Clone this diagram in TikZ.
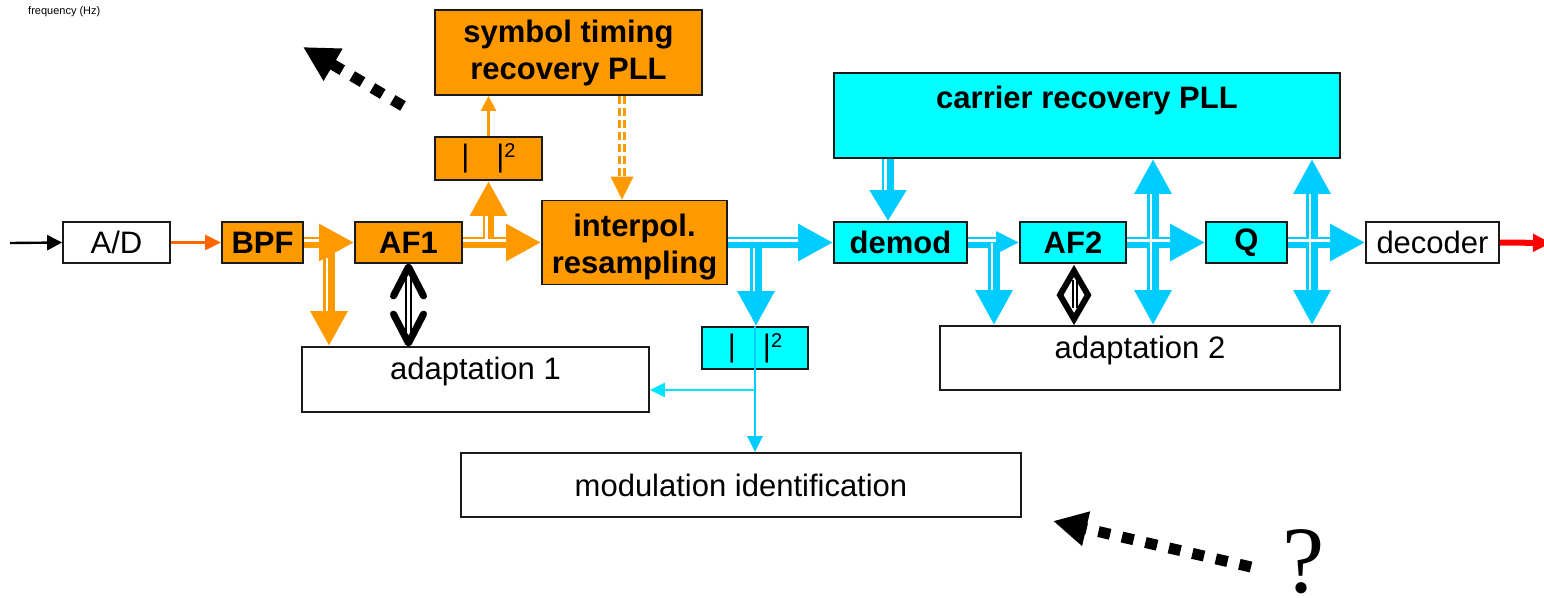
\documentclass[tikz,border=0pt]{standalone}
\usepackage{fontspec}
\setmainfont{Liberation Sans}
\newfontfamily\serifq{Liberation Serif}
\usetikzlibrary{arrows.meta,calc}
\definecolor{org}{HTML}{FF9900}
\definecolor{orgdark}{HTML}{FF6600}
\definecolor{cyfill}{HTML}{00FFFF}
\definecolor{cyarr}{HTML}{00CCFF}
\definecolor{cythin}{HTML}{00E5FF}
\definecolor{edge}{HTML}{1A1A1A}
\newcommand\txt{\fontsize{31pt}{37pt}\selectfont}
\newcommand\absq{{|}\hspace{27pt}{|}\raisebox{9pt}{\fontsize{20pt}{20pt}\selectfont 2}}

\begin{document}
\begin{tikzpicture}[x=1pt,y=-1pt,
  blk/.style={draw=edge, line width=1.8pt, inner sep=0pt, font=\txt, align=center},
  obox/.style={blk, fill=org, font=\txt\bfseries},
  cbox/.style={blk, fill=cyfill, font=\txt\bfseries},
  wbox/.style={blk, fill=white},
  sz/.style 2 args={minimum width=#1pt, minimum height=#2pt},
  big/.style={-{Triangle[length=35pt,width=35pt]}},
  bigboth/.style={{Triangle[length=35pt,width=35pt]}-{Triangle[length=35pt,width=35pt]}},
  oline/.style={draw=org, line width=11.5pt},
  cline/.style={draw=cyarr, line width=11.5pt},
  stripe/.style={draw=white, line width=2.4pt},
  thinhead/.style={-{Triangle[length=15pt,width=15pt]}},
  vhead/.style={draw=black, line width=7pt, line cap=round, line join=round},
  dotline/.style={draw=black, line width=11pt},
]
\useasboundingbox (0,0) rectangle (1544,597);
\clip (0,0) rectangle (1544,597);

% ---------- blocks ----------
\node[font=\fontsize{11pt}{13pt}\selectfont, anchor=base west, inner sep=0pt] (freq) at (28,14) {frequency (Hz)};

\node[wbox, sz={107}{41}] (ad) at (116.5,242.5) {A/D};
\node[obox, sz={81}{41}] (bpf) at (262.5,242.5) {BPF};
\node[obox, sz={107}{41}] (af1) at (408.5,242.5) {AF1};
\node[obox, sz={185}{84}] (interp) at (634.5,242.5) {\rule{0pt}{32pt}interpol.\\resampling};
\node[obox, sz={267}{85}] (sym) at (568.5,52.5) {symbol timing\\recovery PLL};
\node[blk, fill=org, sz={107}{43}] (sq1) at (488.5,158.5) {\absq};
\node[blk, fill=cyfill, sz={106}{42}] (sq2) at (755,348) {\absq};
\node[wbox, sz={347}{65}, text depth=22pt] (ad1) at (475.5,379.5) {adaptation 1};
\node[wbox, sz={560}{64}] (modid) at (741,485) {modulation identification};
\node[cbox, sz={506}{85}, text depth=37pt] (carrier) at (1087,115.5) {carrier recovery PLL};
\node[cbox, sz={133}{41}] (demod) at (900.5,242.5) {demod};
\node[cbox, sz={106}{41}] (af2) at (1073,242.5) {AF2};
\node[cbox, sz={81}{41}] (q) at (1246.5,242.5) {Q};
\node[wbox, sz={133}{41}] (dec) at (1432.5,242.5) {decoder};
\node[wbox, sz={400}{64}, text depth=22pt] (ad2) at (1140,358) {adaptation 2};

% ---------- branch points ----------
\coordinate (in) at (10,243);
\coordinate (out) at (1551,243);
\coordinate (b1) at (329,242.5);
\coordinate (b2) at (488.5,242.5);
\coordinate (b3) at (756,242.5);
\coordinate (b4) at (994,242.5);
\coordinate (tx) at (622,0);
\coordinate (cx) at (888,0);
\coordinate (v1) at (1153,0);
\coordinate (v2) at (1312,0);
\coordinate (j) at (755,390);

% ---------- thin signal lines ----------
\draw[draw=black, line width=2.4pt, thinhead] (in) -- (ad.west);
\draw[draw=orgdark, line width=2.4pt, -{Triangle[length=16pt,width=15pt]}] (ad.east) -- (bpf.west);
\draw[draw=org, line width=2.6pt, thinhead] (sq1.north) -- (sq1.north |- sym.south);
\draw[draw=red, line width=6pt, -{Triangle[length=18pt,width=17pt]}] (dec.east) -- (out);

% ---------- wide orange paths ----------
\draw[oline, big] (bpf.east) -- (af1.west);
\draw[oline, big] (b1) -- (b1 |- ad1.north);
\draw[oline, big] (af1.east) -- (interp.west);
\draw[oline, big] (b2) -- (b2 |- sq1.south);

% dashed double clock line
\draw[draw=org, line width=2.6pt, double=white, double distance=2.4pt, dash pattern=on 8pt off 4pt]
  (sym.south -| tx) -- ($(interp.north -| tx)+(0,-22)$);
\fill[org] (interp.north -| tx) -- ++(-11.5,-23) -- ++(23,0) -- cycle;

% ---------- wide cyan paths ----------
\draw[cline, big] (interp.east) -- (demod.west);
\draw[cline, big] (b3) -- (b3 |- sq2.north);
\draw[cline, -{Triangle[length=31pt,width=35pt]}] (carrier.south -| cx) -- (demod.north -| cx);
\draw[cline, -{Triangle[length=23pt,width=21pt]}] (demod.east) -- (af2.west);
\draw[cline, big] (b4) -- (b4 |- ad2.north);
\draw[cline, big] (af2.east) -- (q.west);
\draw[cline, bigboth] (carrier.south -| v1) -- (ad2.north -| v1);
\draw[cline, big] (q.east) -- (dec.west);
\draw[cline, bigboth] (carrier.south -| v2) -- (ad2.north -| v2);

% ---------- white inner stripes of the wide paths ----------
\draw[stripe] ($(bpf.east)+(0,-2)$) -- ($(af1.west)+(-35,-2)$);
\draw[stripe] ($(b1)+(-2,15)$) -- ($(b1 |- ad1.north)+(-2,-35)$);
\draw[stripe] ($(af1.east)+(0,-2)$) -- ($(interp.west)+(-35,-2)$);
\draw[stripe] ($(b2)+(-2,-2)$) -- ($(b2 |- sq1.south)+(-2,35)$);
\draw[stripe] ($(interp.east)+(0,-2)$) -- ($(demod.west)+(-35,-2)$);
\draw[stripe] ($(b3)+(-2,5)$) -- ($(b3 |- sq2.north)+(-2,-35)$);
\draw[stripe] ($(carrier.south -| cx)+(-2.5,0)$) -- ($(demod.north -| cx)+(-2.5,-31)$);
\draw[stripe] ($(demod.east)+(0,-2)$) -- ($(af2.west)+(-23,-2)$);
\draw[stripe] ($(b4)+(-2,0)$) -- ($(b4 |- ad2.north)+(-2,-35)$);
\draw[stripe] ($(af2.east)+(0,-2)$) -- ($(q.west)+(-35,-2)$);
\draw[stripe] ($(carrier.south -| v1)+(-2,35)$) -- ($(ad2.north -| v1)+(-2,-35)$);
\draw[stripe] ($(q.east)+(0,-2)$) -- ($(dec.west)+(-35,-2)$);
\draw[stripe] ($(carrier.south -| v2)+(-2,35)$) -- ($(ad2.north -| v2)+(-2,-35)$);

% ---------- power detector outputs ----------
\draw[draw=cyarr, line width=2.4pt, -{Triangle[length=16pt,width=15pt]}] (sq2.north) -- (sq2.north |- modid.north);
\draw[draw=cythin, line width=2.4pt, -{Triangle[length=15pt,width=14pt]}] (j) -- (j -| ad1.east);

% ---------- adaptation links ----------
\coordinate (a1t) at ($(af1.south)+(0,3)$);
\coordinate (a1b) at ($(af1.south |- ad1.north)+(0,-3)$);
\draw[draw=black, line width=2.6pt, double=white, double distance=2.4pt] (a1t) -- (a1b);
\draw[vhead] ($(a1t)+(-15,29)$) -- (a1t) -- ($(a1t)+(15,29)$);
\draw[vhead] ($(a1b)+(-15,-29)$) -- (a1b) -- ($(a1b)+(15,-29)$);

\coordinate (dt) at ($(af2.south)+(1,7)$);
\coordinate (db) at ($(af2.south |- ad2.north)+(1,-6)$);
\coordinate (dm) at ($(dt)!0.5!(db)$);
\draw[draw=black, line width=6pt, line join=miter] (dt) -- ($(dm)+(14,0)$) -- (db) -- ($(dm)+(-14,0)$) -- cycle;
\draw[draw=black, line width=2pt, double=white, double distance=2.6pt] ($(dm)+(1,-15)$) -- ($(dm)+(1,13)$);

% ---------- dotted pointers ----------
\coordinate (p1s) at (403,106);
\coordinate (p1e) at (303,47);
\draw[dotline, dash pattern=on 12pt off 11.5pt, -{Triangle[length=35pt,width=35pt]}] (p1s) -- (p1e);
\coordinate (p2s) at (1251,567);
\coordinate (p2e) at (1053,521);
\draw[dotline, dash pattern=on 12pt off 12.1pt, -{Triangle[length=34pt,width=33pt]}] (p2s) -- (p2e);
\node[font=\serifq\fontsize{95pt}{95pt}\selectfont, anchor=base, inner sep=0pt] (qm) at (1304,592) {?};
\end{tikzpicture}
\end{document}
